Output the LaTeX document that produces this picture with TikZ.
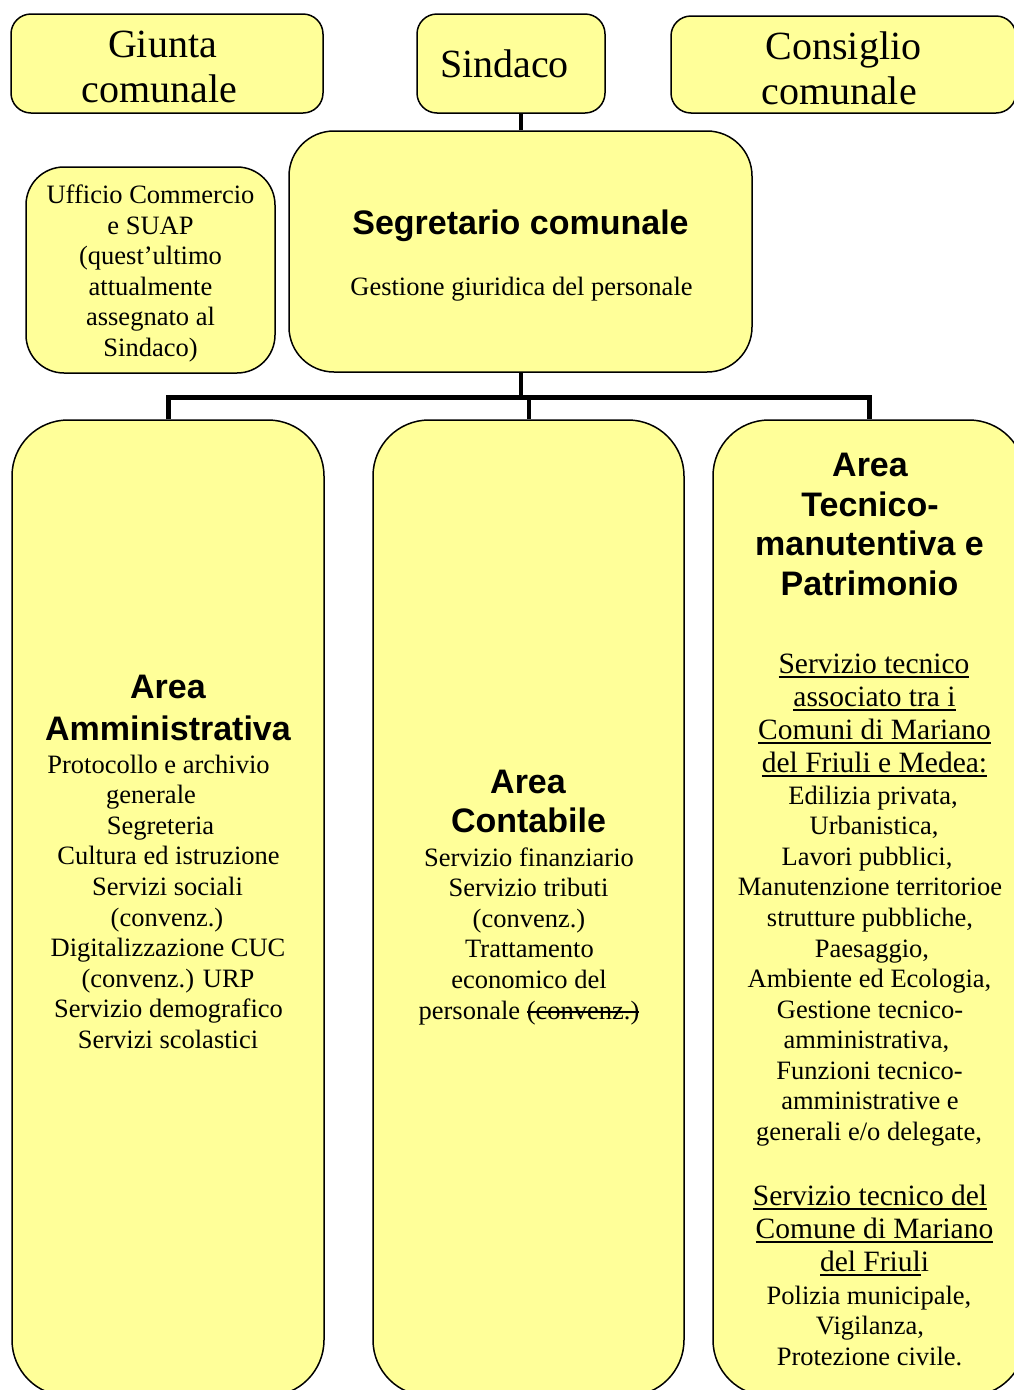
\documentclass[tikz,border=0pt]{standalone}
\usepackage{fontspec}
\setmainfont{Liberation Serif}
\setsansfont{Liberation Sans}
\newcommand{\myul}[1]{\setbox0=\hbox{#1}\rlap{\rule[-4.8pt]{\wd0}{1.7pt}}\box0}
\newcommand{\mystrike}[1]{\setbox0=\hbox{#1}\rlap{\rule[6.5pt]{\wd0}{1.4pt}}\box0}
\definecolor{boxfill}{RGB}{255,255,153}
\tikzset{
  box/.style={draw=black, line width=1.5pt, fill=boxfill, rounded corners=#1, inner sep=0pt},
  link/.style={draw=black, line width=4pt},
  busline/.style={draw=black, line width=5pt, line join=miter},
  tx/.style={anchor=base, inner sep=0pt, font=\fontsize{26.5}{30}\selectfont},
  utx/.style={anchor=base, inner sep=0pt, font=\fontsize{29.5}{33}\selectfont},
  big/.style={anchor=base, inner sep=0pt, font=\fontsize{40}{45}\selectfont},
  hd/.style={anchor=base, inner sep=0pt, font=\fontsize{34}{40}\selectfont\sffamily\bfseries},
}
\begin{document}
\begin{tikzpicture}[x=1pt,y=-1pt]
\useasboundingbox (0,0) rectangle (1014,1390);
\clip (0,0) rectangle (1014,1390);

% boxes
\node[box=20pt, minimum width=312pt, minimum height=99pt] (giunta) at (167,63.5) {};
\node[box=20pt, minimum width=188pt, minimum height=99pt] (sindaco) at (511,63.5) {};
\node[box=20pt, minimum width=345pt, minimum height=97pt] (consiglio) at (843.5,64.5) {};
\node[box=38pt, minimum width=249pt, minimum height=206pt] (ufficio) at (150.5,270) {};
\node[box=45pt, minimum width=463pt, minimum height=241pt] (seg) at (520.5,251.5) {};
\node[box=56pt, minimum width=312pt, minimum height=976pt] (amm) at (168,908) {};
\node[box=56pt, minimum width=311pt, minimum height=976pt] (cont) at (528.5,908) {};
\node[box=56pt, minimum width=312pt, minimum height=976pt] (tec) at (869,908) {};

% connectors
\coordinate (busy) at (0,397);
\draw[link] (seg.north) -- (seg.north |- sindaco.south);
\draw[link] (seg.south) -- (seg.south |- busy);
\draw[busline] (amm.north) -- (amm.north |- busy) -- (tec.north |- busy) -- (tec.north);
\draw[link] (cont.north |- busy) -- (cont.north);

% top texts
\node[big] (giunta-a) at (162.5,57) {Giunta};
\node[big] (giunta-b) at (159.5,102.5) {comunale};
\node[big] (sindaco-a) at (504.5,77) {Sindaco};
\node[big] (consiglio-a) at (843.5,59) {Consiglio};
\node[big] (consiglio-b) at (839,104) {comunale};

% segretario
\node[hd] (seg-a) at (520.5,234) {Segretario comunale};
\node[tx] (seg-b) at (521.5,295) {Gestione giuridica del personale};

% ufficio
\foreach \t [count=\i] in {{Ufficio Commercio},{e SUAP},{(quest’ultimo},{attualmente},{assegnato al},{Sindaco)}}
  \node[tx] (uff-\i) at (150.5,{203.5+30.5*(\i-1)}) {\t};

% area amministrativa
\node[hd] (amm-a) at (168,698) {Area};
\node[hd] (amm-b) at (168,740) {Amministrativa};
\foreach \t/\x [count=\i] in {{Protocollo e archivio}/158.5,{generale}/151,{Segreteria}/160.5,
  {Cultura ed istruzione}/168.5,{Servizi sociali}/167.5,{(convenz.)}/167,{Digitalizzazione CUC}/168,
  {(convenz.) URP}/168,{Servizio demografico}/168.5,{Servizi scolastici}/168}
  \node[tx] (amm-\i) at (\x,{773+30.6*(\i-1)}) {\t};

% area contabile
\node[hd] (cont-a) at (528,793) {Area};
\node[hd] (cont-b) at (528.5,832) {Contabile};
\foreach \t/\x [count=\i] in {{Servizio finanziario}/529,{Servizio tributi}/528.5,{(convenz.)}/529,
  {Trattamento}/529.5,{economico del}/529,{personale \mystrike{(convenz.)}}/529}
  \node[tx] (cont-\i) at (\x,{866+30.6*(\i-1)}) {\t};

% area tecnico-manutentiva
\node[hd] (tec-a) at (870,476) {Area};
\node[hd] (tec-b) at (870,516) {Tecnico-};
\node[hd] (tec-c) at (869.5,555.5) {manutentiva e};
\node[hd] (tec-d) at (869.5,595.5) {Patrimonio};
\foreach \t/\x/\y [count=\i] in {{\myul{Servizio tecnico}}/874/673,{\myul{associato tra i}}/874.5/706,
  {\myul{Comuni di Mariano}}/874.5/739,{\myul{del Friuli e Medea:}}/874.5/772,
  {\myul{Servizio tecnico del}}/870/1205,{\myul{Comune di Mariano}}/874.5/1238,
  {\myul{del Friul}i}/874.5/1271}
  \node[utx] (tecu-\i) at (\x,\y) {\t};
\foreach \t/\x/\y [count=\i] in {
  {Edilizia privata,}/873/804,{Urbanistica,}/874/834.5,{Lavori pubblici,}/867/865,
  {Manutenzione territorioe}/870/895.5,{strutture pubbliche,}/870/926,{Paesaggio,}/872/957,
  {Ambiente ed Ecologia,}/869.5/987.5,{Gestione tecnico-}/870/1018,{amministrativa,}/866.5/1048.5,
  {Funzioni tecnico-}/869.5/1079,{amministrative e}/870/1109.5,{generali e/o delegate,}/869/1140,
  {Polizia municipale,}/869/1304,{Vigilanza,}/870/1334.5,{Protezione civile.}/869.5/1365}
  \node[tx] (tec-\i) at (\x,\y) {\t};
\end{tikzpicture}
\end{document}
